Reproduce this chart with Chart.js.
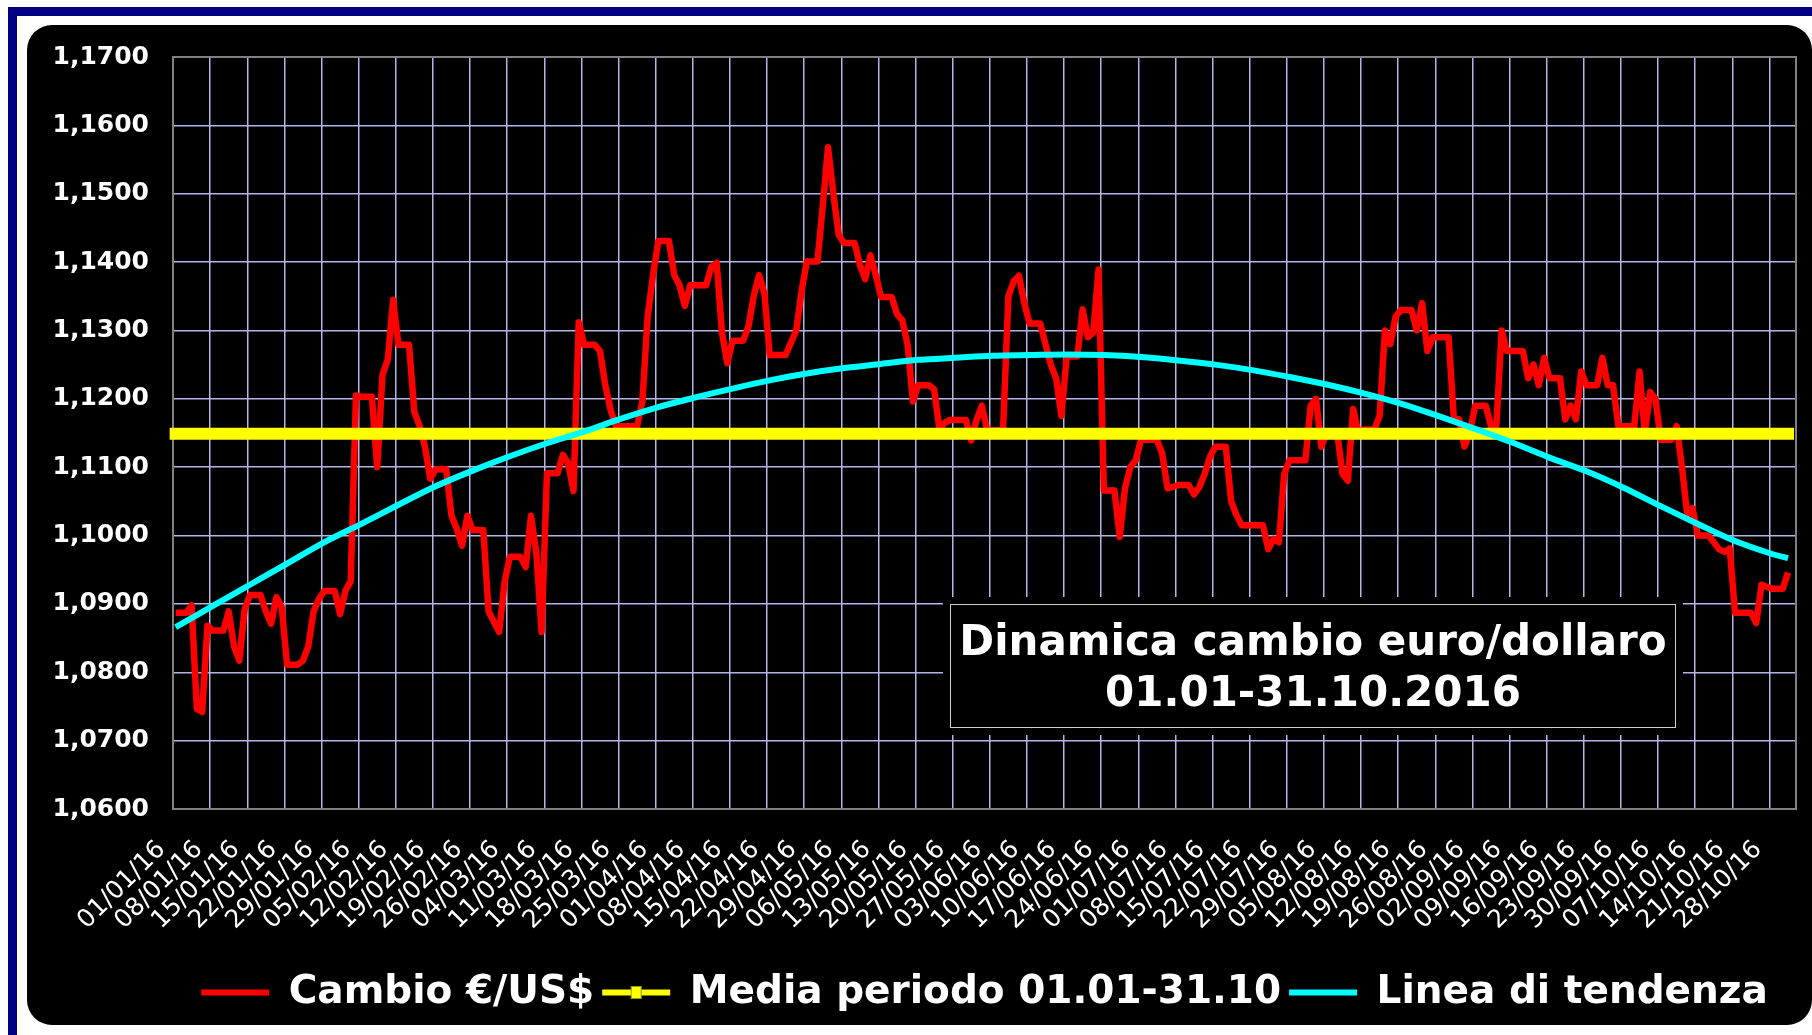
<!DOCTYPE html>
<html lang="it">
<head>
  <meta charset="UTF-8">
  <title>Dinamica cambio euro/dollaro 01.01-31.10.2016</title>
  <script src="https://cdn.jsdelivr.net/npm/chart.js"></script>
  <style>
    html, body {
      margin: 0;
      padding: 0;
      background: #ffffff;
    }
    body {
      width: 1812px;
      height: 1035px;
      overflow: hidden;
      position: relative;
      font-family: "DejaVu Sans", sans-serif;
    }
    #frame {
      position: absolute;
      left: 8px;
      top: 7px;
      width: 1900px;
      height: 1100px;
      border: 9px solid #000080;
      background: #ffffff;
    }
    #panel {
      position: absolute;
      left: 27px;
      top: 25px;
      width: 1785px;
      height: 1000px;
      background: #000000;
      border-radius: 25px;
    }
    #panel canvas {
      position: absolute;
      left: 0;
      top: 0;
    }
    #titleBox {
      position: absolute;
      left: 950px;
      top: 604px;
      width: 726px;
      height: 124px;
      box-sizing: border-box;
      border: 1px solid #d0d0d0;
      background: #000000;
      box-shadow: 0 0 0 7px #000000;
      color: #ffffff;
      font-weight: bold;
      font-size: 42px;
      line-height: 51px;
      text-align: center;
      display: flex;
      flex-direction: column;
      justify-content: center;
    }
  </style>
</head>
<body>
  <div id="frame"></div>
  <div id="panel">
    <canvas id="cambioChart" width="1785" height="1000"></canvas>
  </div>
  <div id="titleBox">
    <div>Dinamica cambio euro/dollaro</div>
    <div>01.01-31.10.2016</div>
  </div>

  <script>
    // weekly tick labels (every Friday)
    const tickLabels = [
      '01/01/16', '08/01/16', '15/01/16', '22/01/16', '29/01/16', '05/02/16', '12/02/16', '19/02/16',
      '26/02/16', '04/03/16', '11/03/16', '18/03/16', '25/03/16', '01/04/16', '08/04/16', '15/04/16',
      '22/04/16', '29/04/16', '06/05/16', '13/05/16', '20/05/16', '27/05/16', '03/06/16', '10/06/16',
      '17/06/16', '24/06/16', '01/07/16', '08/07/16', '15/07/16', '22/07/16', '29/07/16', '05/08/16',
      '12/08/16', '19/08/16', '26/08/16', '02/09/16', '09/09/16', '16/09/16', '23/09/16', '30/09/16',
      '07/10/16', '14/10/16', '21/10/16', '28/10/16'
    ];

    // daily EUR/USD, one row per week (Fri..Thu)
    const cambio = [
      1.0887, 1.0887, 1.0887, 1.0898, 1.0746, 1.0742, 1.0868,
      1.0861, 1.0861, 1.0861, 1.0889, 1.0838, 1.0817, 1.0892,
      1.0913, 1.0913, 1.0913, 1.0889, 1.0871, 1.0910, 1.0895,
      1.0811, 1.0811, 1.0811, 1.0817, 1.0838, 1.0889, 1.0907,
      1.0919, 1.0919, 1.0919, 1.0885, 1.0919, 1.0933, 1.1205,
      1.1203, 1.1203, 1.1203, 1.1100, 1.1235, 1.1258, 1.1345,
      1.1279, 1.1279, 1.1279, 1.1181, 1.1160, 1.1130, 1.1083,
      1.1097, 1.1097, 1.1097, 1.1029, 1.1010, 1.0985, 1.1029,
      1.1008, 1.1008, 1.1008, 1.0889, 1.0874, 1.0859, 1.0931,
      1.0969, 1.0969, 1.0969, 1.0954, 1.1029, 1.0975, 1.0859,
      1.1091, 1.1091, 1.1091, 1.1118, 1.1106, 1.1065, 1.1312,
      1.1279, 1.1279, 1.1279, 1.1270, 1.1220, 1.1184, 1.1160,
      1.1160, 1.1160, 1.1160, 1.1160, 1.1196, 1.1321, 1.1381,
      1.1431, 1.1431, 1.1431, 1.1381, 1.1366, 1.1336, 1.1366,
      1.1366, 1.1366, 1.1366, 1.1393, 1.1399, 1.1297, 1.1252,
      1.1285, 1.1285, 1.1285, 1.1306, 1.1351, 1.1381, 1.1354,
      1.1264, 1.1264, 1.1264, 1.1264, 1.1282, 1.1300, 1.1357,
      1.1401, 1.1401, 1.1401, 1.1482, 1.1568, 1.1500, 1.1440,
      1.1428, 1.1428, 1.1428, 1.1396, 1.1375, 1.1410, 1.1381,
      1.1349, 1.1349, 1.1349, 1.1324, 1.1315, 1.1279, 1.1196,
      1.1220, 1.1220, 1.1220, 1.1214, 1.1155, 1.1165, 1.1169,
      1.1169, 1.1169, 1.1169, 1.1139, 1.1169, 1.1190, 1.1154,
      1.1154, 1.1154, 1.1154, 1.1350, 1.1372, 1.1380, 1.1340,
      1.1310, 1.1310, 1.1310, 1.1280, 1.1250, 1.1230, 1.1175,
      1.1262, 1.1262, 1.1262, 1.1331, 1.1290, 1.1297, 1.1389,
      1.1066, 1.1066, 1.1066, 1.0998, 1.1070, 1.1100, 1.1110,
      1.1140, 1.1140, 1.1140, 1.1140, 1.1120, 1.1069, 1.1071,
      1.1074, 1.1074, 1.1074, 1.1060, 1.1071, 1.1090, 1.1115,
      1.1130, 1.1130, 1.1130, 1.1050, 1.1030, 1.1015, 1.1015,
      1.1015, 1.1015, 1.1015, 1.0980, 1.0995, 1.0990, 1.1090,
      1.1110, 1.1110, 1.1110, 1.1110, 1.1190, 1.1200, 1.1130,
      1.1150, 1.1150, 1.1150, 1.1090, 1.1080, 1.1185, 1.1150,
      1.1155, 1.1155, 1.1155, 1.1175, 1.1300, 1.1280, 1.1320,
      1.1330, 1.1330, 1.1330, 1.1300, 1.1340, 1.1270, 1.1290,
      1.1290, 1.1290, 1.1290, 1.1170, 1.1170, 1.1130, 1.1150,
      1.1190, 1.1190, 1.1190, 1.1160, 1.1160, 1.1300, 1.1270,
      1.1270, 1.1270, 1.1270, 1.1230, 1.1250, 1.1220, 1.1260,
      1.1230, 1.1230, 1.1230, 1.1170, 1.1190, 1.1170, 1.1240,
      1.1220, 1.1220, 1.1220, 1.1260, 1.1220, 1.1220, 1.1160,
      1.1160, 1.1160, 1.1160, 1.1240, 1.1150, 1.1210, 1.1200,
      1.1140, 1.1140, 1.1140, 1.1160, 1.1100, 1.1030, 1.1040,
      1.1000, 1.1000, 1.1000, 1.0990, 1.0980, 1.0976, 1.0981,
      1.0887, 1.0887, 1.0887, 1.0887, 1.0872, 1.0928, 1.0925,
      1.0922, 1.0922, 1.0922, 1.0946
    ];

    // average of the period
    const mediaPeriodo = 1.1149;

    // trend line read on each Friday, plus the last day
    const tendenza = [
      1.0866, 1.0897, 1.0928, 1.0959, 1.0990, 1.1017, 1.1045, 1.1072, 1.1095, 1.1116,
      1.1135, 1.1152, 1.1171, 1.1188, 1.1202, 1.1215, 1.1227, 1.1237, 1.1245, 1.1251,
      1.1257, 1.1260, 1.1263, 1.1264, 1.1265, 1.1264, 1.1261, 1.1256, 1.1250, 1.1242,
      1.1232, 1.1221, 1.1208, 1.1193, 1.1175, 1.1156, 1.1136, 1.1114, 1.1094, 1.1070,
      1.1043, 1.1017, 1.0992, 1.0973
    ];
    const tendenzaFine = 1.0967;

    const GRID = '#b4b4e6';
    const FRAME = '#808080';

    // one category per day, 01/01/16 .. 01/11/16
    const giorni = Array.from({ length: 306 }, (_, i) => {
      const d = new Date(2016, 0, 1 + i);
      return String(d.getDate()).padStart(2, '0') + '/' + String(d.getMonth() + 1).padStart(2, '0') + '/16';
    });

    const trendData = cambio.map(() => null);
    tendenza.forEach((v, k) => { trendData[k * 7] = v; });
    trendData[cambio.length - 1] = tendenzaFine;

    const mediaData = cambio.map(() => mediaPeriodo);

    Chart.defaults.font.family = '"DejaVu Sans", sans-serif';

    const plotFrame = {
      id: 'plotFrame',
      beforeDatasetsDraw(chart) {
        const { ctx, chartArea } = chart;
        ctx.save();
        ctx.strokeStyle = FRAME;
        ctx.lineWidth = 2;
        ctx.strokeRect(chartArea.left, chartArea.top, chartArea.right - chartArea.left, chartArea.bottom - chartArea.top);
        ctx.restore();
      }
    };

    const legendMarker = {
      id: 'legendMarker',
      afterDraw(chart) {
        const hb = chart.legend.legendHitBoxes[1];
        if (!hb) return;
        const ctx = chart.ctx;
        const cx = hb.left + 34;
        const cy = hb.top + hb.height / 2;
        ctx.save();
        ctx.fillStyle = '#ffff00';
        ctx.strokeStyle = '#9a9a00';
        ctx.lineWidth = 1;
        ctx.fillRect(cx - 5, cy - 6, 10, 12);
        ctx.strokeRect(cx - 5, cy - 6, 10, 12);
        ctx.restore();
      }
    };

    new Chart(document.getElementById('cambioChart'), {
      type: 'line',
      data: {
        labels: giorni,
        datasets: [
          {
            label: 'Cambio €/US$',
            data: cambio,
            borderColor: '#ff0000',
            backgroundColor: '#ff0000',
            borderWidth: 6.5,
            borderJoinStyle: 'round',
            pointRadius: 0,
            pointStyle: 'line',
            tension: 0,
            order: 3
          },
          {
            label: 'Media periodo 01.01-31.10',
            data: mediaData,
            borderColor: '#ffff00',
            backgroundColor: '#ffff00',
            borderWidth: 12,
            borderCapStyle: 'square',
            pointRadius: 0,
            pointStyle: 'line',
            order: 2
          },
          {
            label: 'Linea di tendenza',
            data: trendData,
            borderColor: '#00ffff',
            backgroundColor: '#00ffff',
            borderWidth: 6,
            pointRadius: 0,
            pointStyle: 'line',
            spanGaps: true,
            tension: 0.3,
            order: 1
          }
        ]
      },
      options: {
        responsive: false,
        animation: false,
        layout: {
          padding: { left: 0, right: 16, top: 32, bottom: 3 }
        },
        plugins: {
          tooltip: { enabled: false },
          legend: {
            position: 'bottom',
            align: 'center',
            fullSize: false,
            labels: {
              color: '#ffffff',
              font: { size: 39, weight: 'bold' },
              usePointStyle: true,
              pointStyleWidth: 68,
              padding: 8,
              sort: (a, b) => a.datasetIndex - b.datasetIndex,
              generateLabels: chart => Chart.defaults.plugins.legend.labels.generateLabels(chart)
                .map(item => Object.assign(item, { lineWidth: 6, pointStyle: 'line' }))
            }
          }
        },
        scales: {
          x: {
            type: 'category',
            offset: true,
            afterFit: scale => {
              scale.height = 156;
              scale.paddingLeft = 0;
              scale.paddingRight = 0;
            },
            grid: {
              offset: true,
              drawTicks: false,
              lineWidth: 1.5,
              color: ctx => (ctx.index !== undefined && ctx.index > 0 && ctx.index % 7 === 0) ? GRID : 'rgba(0,0,0,0)'
            },
            border: { display: false },
            ticks: {
              autoSkip: false,
              maxRotation: 45,
              minRotation: 45,
              padding: 26,
              labelOffset: -14,
              color: '#ffffff',
              font: { size: 25 },
              callback: (value, index) => index % 7 === 0 ? tickLabels[index / 7] : ''
            }
          },
          y: {
            min: 1.06,
            max: 1.17,
            afterFit: scale => {
              scale.width = 146;
              scale.paddingTop = 0;
              scale.paddingBottom = 0;
            },
            grid: {
              drawTicks: false,
              lineWidth: 1.5,
              color: ctx => (ctx.tick && (ctx.tick.value > 1.1695 || ctx.tick.value < 1.0605)) ? 'rgba(0,0,0,0)' : GRID
            },
            border: { display: false },
            ticks: {
              stepSize: 0.01,
              padding: 24,
              color: '#ffffff',
              font: { size: 25, weight: 'bold' },
              callback: value => value.toFixed(4).replace('.', ',')
            }
          }
        }
      },
      plugins: [plotFrame, legendMarker]
    });
  </script>
</body>
</html>
